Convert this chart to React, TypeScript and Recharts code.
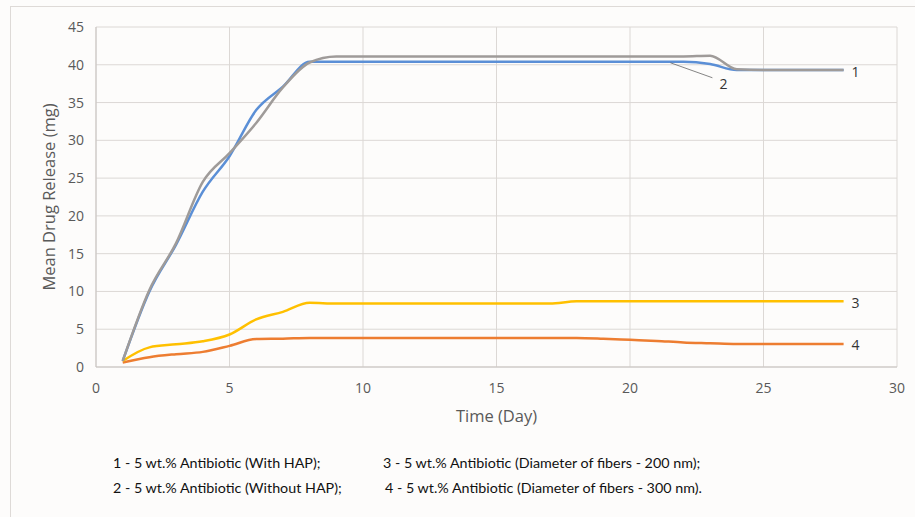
import { LineChart, Line, XAxis, YAxis, CartesianGrid, LabelList } from 'recharts';

const days = [1, 2, 3, 4, 5, 6, 7, 8, 9, 10, 11, 12, 13, 14, 15, 16, 17, 18, 19, 20, 21, 22, 23, 24, 25, 26, 27, 28];
const withHap = [0.8, 10.2, 16.4, 24.5, 28.3, 32.3, 37.0, 40.3, 41.1, 41.1, 41.1, 41.1, 41.1, 41.1, 41.1, 41.1, 41.1, 41.1, 41.1, 41.1, 41.1, 41.1, 41.2, 39.4, 39.3, 39.3, 39.3, 39.3];
const withoutHap = [0.8, 10.0, 16.2, 23.2, 27.9, 34.0, 37.1, 40.4, 40.4, 40.4, 40.4, 40.4, 40.4, 40.4, 40.4, 40.4, 40.4, 40.4, 40.4, 40.4, 40.4, 40.4, 40.1, 39.3, 39.3, 39.3, 39.3, 39.3];
const fibers200 = [0.8, 2.6, 3.0, 3.4, 4.3, 6.3, 7.3, 8.5, 8.4, 8.4, 8.4, 8.4, 8.4, 8.4, 8.4, 8.4, 8.4, 8.7, 8.7, 8.7, 8.7, 8.7, 8.7, 8.7, 8.7, 8.7, 8.7, 8.7];
const fibers300 = [0.6, 1.3, 1.7, 2.0, 2.8, 3.7, 3.75, 3.85, 3.85, 3.85, 3.85, 3.85, 3.85, 3.85, 3.85, 3.85, 3.85, 3.85, 3.75, 3.6, 3.45, 3.25, 3.15, 3.05, 3.05, 3.05, 3.05, 3.05];

const xTicks = [0, 5, 10, 15, 20, 25, 30];
const yTicks = [0, 5, 10, 15, 20, 25, 30, 35, 40, 45];

const legendRows = [
  ['1 - 5 wt.% Antibiotic (With HAP);', '3 - 5 wt.% Antibiotic (Diameter of fibers - 200 nm);'],
  ['2 - 5 wt.% Antibiotic (Without HAP);', '4 - 5 wt.% Antibiotic (Diameter of fibers - 300 nm).'],
];

const data = days.map((d, i) => ({
  day: d,
  s1: withHap[i],
  s2: withoutHap[i],
  s3: fibers200[i],
  s4: fibers300[i],
}));

const font = '"Open Sans", sans-serif';
const last = days.length - 1;

const endLabel = (text: string) => (props: any) => {
  if (props.index !== last) return null;
  return (
    <text x={props.x + 8} y={props.y + 1} fontSize={14} fill="#333" fontFamily={font} dominantBaseline="central">
      {text}
    </text>
  );
};

const leaderLabel = (props: any) => {
  if (props.index !== 21) return null;
  const { x, y } = props;
  return (
    <g>
      <line x1={x - 13} y1={y + 1} x2={x + 29} y2={y + 16} stroke="#666" strokeWidth={0.8} />
      <text x={x + 40} y={y + 22} fontSize={14} fill="#333" fontFamily={font} textAnchor="middle" dominantBaseline="central">
        2
      </text>
    </g>
  );
};

export default function App() {
  return (
    <div style={{ position: 'absolute', left: 0, top: 0, width: 915, height: 517, background: '#fdfcfb', overflow: 'hidden' }}>
      <div style={{ position: 'absolute', left: 10, top: 6, width: 905, height: 1, background: '#dedad7' }} />
      <div style={{ position: 'absolute', left: 10, top: 6, width: 1, height: 511, background: '#dedad7' }} />
      <LineChart width={915} height={440} data={data} margin={{ top: 27, right: 18, left: 10, bottom: 23 }}>
        <CartesianGrid stroke="#dcd8d5" strokeWidth={1} verticalValues={xTicks} horizontalValues={yTicks} />
        <XAxis
          dataKey="day"
          type="number"
          domain={[0, 30]}
          ticks={xTicks}
          tickLine={false}
          tickSize={0}
          tickMargin={16}
          height={50}
          stroke="#c8c4c1"
          tick={{ fontSize: 14, fill: '#595959', fontFamily: font }}
          label={{
            content: ({ viewBox }: any) => (
              <text x={viewBox.x + viewBox.width / 2} y={viewBox.y + 48} fontSize={16.5} fill="#595959" fontFamily={font} textAnchor="middle" dominantBaseline="central">
                Time (Day)
              </text>
            ),
          }}
        />
        <YAxis
          type="number"
          domain={[0, 45]}
          ticks={yTicks}
          width={86}
          tickLine={false}
          tickSize={0}
          tickMargin={12}
          stroke="#c8c4c1"
          tick={{ fontSize: 14, fill: '#595959', fontFamily: font }}
          label={{
            content: ({ viewBox }: any) => {
              const cx = viewBox.x + 38;
              const cy = viewBox.y + viewBox.height / 2;
              return (
                <text x={cx} y={cy} transform={`rotate(-90, ${cx}, ${cy})`} fontSize={16.5} fill="#595959" fontFamily={font} textAnchor="middle" dominantBaseline="central">
                  Mean Drug Release (mg)
                </text>
              );
            },
          }}
        />
        <Line type="monotone" dataKey="s4" stroke="#ed7d31" strokeWidth={2.5} dot={false} isAnimationActive={false}>
          <LabelList dataKey="s4" content={endLabel('4')} />
        </Line>
        <Line type="monotone" dataKey="s3" stroke="#ffc000" strokeWidth={2.5} dot={false} isAnimationActive={false}>
          <LabelList dataKey="s3" content={endLabel('3')} />
        </Line>
        <Line type="monotone" dataKey="s2" stroke="#5b8fd6" strokeWidth={2.5} dot={false} isAnimationActive={false}>
          <LabelList dataKey="s2" content={leaderLabel} />
        </Line>
        <Line type="monotone" dataKey="s1" stroke="#9f9b99" strokeWidth={2.5} dot={false} isAnimationActive={false}>
          <LabelList dataKey="s1" content={endLabel('1')} />
        </Line>
      </LineChart>
      {legendRows.map((row, r) => (
        <div key={r} style={{ position: 'absolute', top: 454 + r * 25, left: 0, fontFamily: 'Lato, sans-serif', fontSize: 14.3, color: '#111', whiteSpace: 'nowrap' }}>
          <span style={{ position: 'absolute', left: 113 }}>{row[0]}</span>
          <span style={{ position: 'absolute', left: r === 0 ? 383 : 385 }}>{row[1]}</span>
        </div>
      ))}
    </div>
  );
}
